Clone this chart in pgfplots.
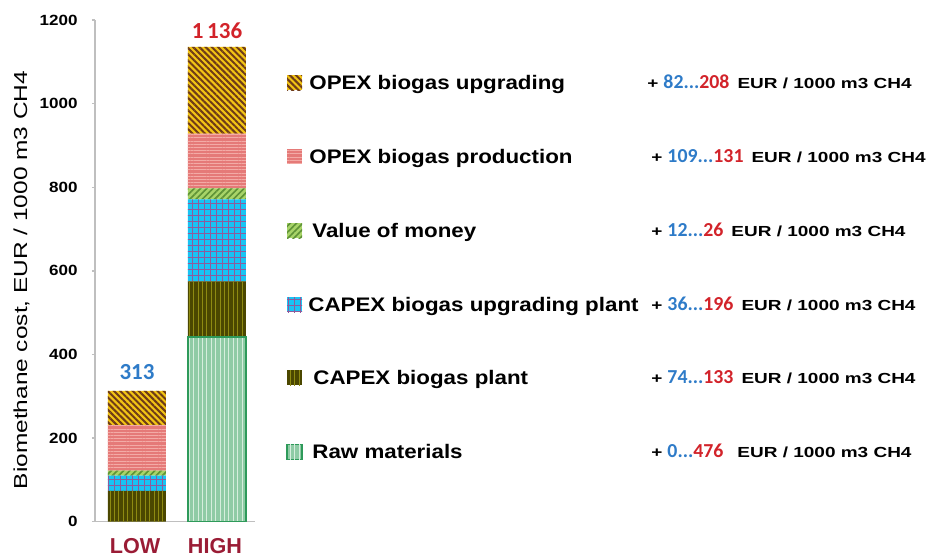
\documentclass[border=0pt]{standalone}
\usepackage{pgfplots}
\pgfplotsset{compat=1.18}
\usetikzlibrary{patterns.meta}
\usepackage{fontspec}
\setmainfont{Liberation Sans}
\newfontfamily\legfont{Liberation Sans}[FakeStretch=1.14]
\newfontfamily\annfont{Liberation Sans}[FakeStretch=1.3]
\newfontfamily\tickfont{Liberation Sans}[FakeStretch=1.15]
\newfontfamily\ylabfont{Liberation Sans}[FakeStretch=1.3]
\newfontfamily\calibri{Carlito}
\newfontfamily\arial{Liberation Sans}

\definecolor{rawfill}{HTML}{8FCBA5}
\definecolor{rawline}{HTML}{D6EEDD}
\definecolor{rawedge}{HTML}{2E9A5A}
\definecolor{plantfill}{HTML}{4B4700}
\definecolor{plantline}{HTML}{8E8A12}
\definecolor{upgfill}{HTML}{18C4F4}
\definecolor{upgline}{HTML}{8E5C9C}
\definecolor{vomfill}{HTML}{A8D468}
\definecolor{vomline}{HTML}{5E9236}
\definecolor{prodfill}{HTML}{E57A78}
\definecolor{prodline}{HTML}{F3ABA6}
\definecolor{opupfill}{HTML}{F2C414}
\definecolor{opupline}{HTML}{6E3B18}
\definecolor{numblue}{HTML}{2E7BC8}
\definecolor{numred}{HTML}{D2232A}
\definecolor{lowred}{HTML}{9A1C35}
\definecolor{axgray}{HTML}{BFBFBF}

\tikzset{
  rawst/.style={fill=rawfill, draw=rawedge, line width=0.6pt,
    postaction={pattern={Lines[angle=90,distance=2.2pt,line width=0.5pt]}, pattern color=rawline}},
  plantst/.style={fill=plantfill, draw=none,
    postaction={pattern={Lines[angle=90,distance=2.2pt,line width=0.45pt]}, pattern color=plantline}},
  upgst/.style={fill=upgfill, draw=none,
    postaction={pattern={Hatch[angle=0,distance=3pt,line width=0.42pt]}, pattern color=upgline}},
  vomst/.style={fill=vomfill, draw=none,
    postaction={pattern={Lines[angle=45,distance=2.2pt,line width=0.8pt]}, pattern color=vomline}},
  prodst/.style={fill=prodfill, draw=none,
    postaction={pattern={Lines[angle=0,distance=1.6pt,line width=0.4pt]}, pattern color=prodline}},
  opupst/.style={fill=opupfill, draw=none,
    postaction={pattern={Lines[angle=-45,distance=2.2pt,line width=1.0pt]}, pattern color=opupline}},
}

\newcommand{\legentry}[4]{%
  \fill[#1] (96pt,#2-3.75pt) rectangle (103.5pt,#2+3.75pt);
  \node[anchor=base west, inner sep=0pt, font=\legfont\bfseries\fontsize{9.8}{10}\selectfont] at (#3,#2-3.5pt) {#4};}
\newcommand{\annot}[5]{%
  \node[anchor=base west, inner sep=0pt] at (#1,#2-3pt)
   {\annfont\bfseries\fontsize{7.3}{8}\selectfont +\hspace{2.5pt}{\calibri\bfseries\fontsize{9.9}{10}\selectfont\color{numblue}#3...\color{numred}#4}#5EUR / 1000 m3 CH4};}

\begin{document}
\begin{tikzpicture}
\path[use as bounding box] (-47.5pt,-17.65pt) rectangle (416.5pt,260.85pt);
\begin{axis}[
  width=80pt, height=250.85pt, scale only axis,
  ybar stacked, bar width=29pt, bar shift=1pt,
  xmin=-0.5, xmax=1.5, ymin=0, ymax=1200,
  clip=false,
  axis x line*=bottom, axis y line*=left,
  axis line style={draw=axgray, line width=0.7pt},
  xtick={0,1}, xticklabels={LOW,HIGH},
  major x tick style={draw=none},
  extra x ticks={-0.5,0.5,1.5}, extra x tick labels={},
  extra x tick style={major tick length=3.5pt, tick align=outside,
     tick style={draw=axgray, line width=0.7pt}},
  ytick={0,200,...,1200},
  major y tick style={draw=axgray, line width=0.7pt},
  major tick length=1.5pt, tick align=outside,
  xticklabel style={font=\arial\bfseries\fontsize{10.8}{12}\selectfont, text=lowred, anchor=base, yshift=-14.6pt},
  yticklabel style={font=\tickfont\bfseries\fontsize{7.4}{8}\selectfont, anchor=east, inner sep=0pt, xshift=-7pt},
  /pgf/number format/assume math mode=true,
  /pgf/number format/1000 sep={},
]
\addplot[rawst] coordinates {(0,0) (1,442)};
\addplot[plantst] coordinates {(0,74) (1,133)};
\addplot[upgst] coordinates {(0,36) (1,196)};
\addplot[vomst] coordinates {(0,12) (1,26)};
\addplot[prodst] coordinates {(0,109) (1,131)};
\addplot[opupst] coordinates {(0,82) (1,208)};
\node[font=\calibri\bfseries\fontsize{11.5}{12}\selectfont, text=numblue, anchor=base, xshift=1pt, yshift=5.85pt] at (axis cs:0,313) {313};
\node[font=\calibri\bfseries\fontsize{11.5}{12}\selectfont, text=numred, anchor=base, xshift=1pt, yshift=4.35pt] at (axis cs:1,1136) {1\,136};
\end{axis}
\node[rotate=90, font=\ylabfont\fontsize{9.4}{10}\selectfont] at (-36.75pt,120.85pt) {Biomethane cost, EUR / 1000 m3 CH4};
\legentry{opupst}{219.35pt}{107pt}{OPEX biogas upgrading}
\legentry{prodst}{182.35pt}{107pt}{OPEX biogas production}
\legentry{vomst}{145.35pt}{108.5pt}{Value of money}
\legentry{upgst}{108.35pt}{106.5pt}{CAPEX biogas upgrading plant}
\legentry{plantst}{71.85pt}{109pt}{CAPEX biogas plant}
\legentry{rawst}{34.85pt}{108.5pt}{Raw materials}
\annot{276pt}{219.35pt}{82}{208}{\hspace{4pt}}
\annot{278pt}{182.35pt}{109}{131}{\hspace{4pt}}
\annot{278pt}{145.35pt}{12}{26}{\hspace{4pt}}
\annot{278pt}{108.35pt}{36}{196}{\hspace{4pt}}
\annot{278pt}{71.85pt}{74}{133}{\hspace{4pt}}
\annot{278pt}{34.85pt}{0}{476}{\hspace{7pt}}
\end{tikzpicture}
\end{document}
